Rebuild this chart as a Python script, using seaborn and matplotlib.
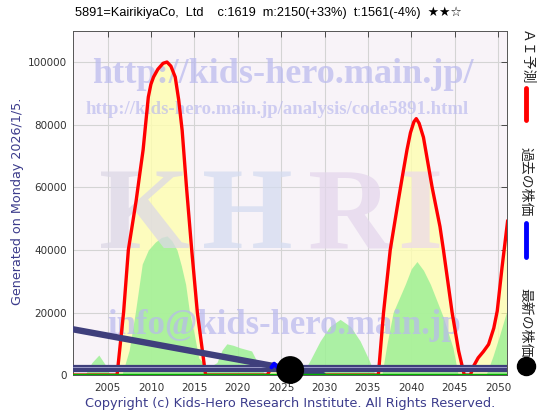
# Kids-Hero style stock chart, 5891 KairikiyaCo
import numpy as np
import pandas as pd
import matplotlib
matplotlib.use('Agg')
import matplotlib.pyplot as plt
import seaborn as sns

# AI prediction (red line + yellow fill)
ai_years = [2001.0, 2006.1, 2006.85, 2007.4, 2008.3, 2008.7, 2009.1, 2009.4, 2009.7, 2010.0,
            2010.3, 2010.8, 2011.4, 2011.85, 2012.3, 2012.8, 2013.2, 2013.6, 2014.1, 2014.7,
            2015.35, 2016.3, 2023.4, 2024.1, 2025.0,
            2036.2, 2036.8, 2037.57, 2038.5, 2039.0, 2039.5, 2039.9, 2040.3, 2040.57, 2040.9,
            2041.4, 2042.4, 2043.3, 2043.7, 2044.7, 2045.45, 2046.1, 2046.8, 2047.2, 2047.7,
            2048.3, 2048.9, 2049.5, 2049.9, 2050.45, 2051.1]
ai_values = [0, 0, 20000, 40000, 55800, 64000, 72000, 80500, 88900, 93000,
             95300, 97800, 99700, 100100, 98800, 95300, 88000, 78200, 60000, 40000,
             20000, 0, 0, 3500, 0,
             0, 20000, 40000, 55800, 64000, 72000, 77500, 81000, 82000, 80500,
             76000, 60000, 47500, 40000, 20000, 7700, 0, 0, 3000, 5500,
             7500, 9800, 15000, 20500, 34400, 49400]

# green humps
green_years = [2001.0, 2002.4, 2003.2, 2004.0, 2004.7, 2005.3,
               2006.65, 2007.5, 2008.2, 2009.0, 2009.7, 2010.5, 2011.2, 2011.85, 2012.4,
               2013.0, 2013.5, 2014.0, 2014.4, 2015.0, 2015.5, 2016.3, 2017.0, 2017.6,
               2018.2, 2018.75, 2019.5, 2020.3, 2021.6, 2022.6, 2023.2,
               2027.4, 2028.4, 2029.5, 2030.6, 2031.8, 2033.0, 2034.1, 2035.1, 2035.85,
               2036.6, 2037.2, 2037.9, 2039.3, 2040.0, 2040.65, 2041.4, 2042.2, 2043.7,
               2044.8, 2045.4, 2048.6, 2049.4, 2050.2, 2051.0]
green_values = [0, 0, 4000, 6400, 3500, 0,
                0, 8000, 20000, 35500, 40000, 42500, 44000, 44500, 43000,
                40000, 35000, 29000, 21000, 13000, 5500, 3000, 3000, 4000,
                8000, 10000, 9500, 8700, 7700, 2300, 0,
                0, 5000, 10900, 15500, 17800, 15500, 10900, 5000, 0,
                0, 10000, 20000, 29000, 34000, 36300, 33500, 29000, 18400,
                8700, 0, 0, 6000, 13000, 20500]

# trend line of past prices (navy)
trend_years = [2001.0, 2029.8]
trend_values = [14650, 0]

# past price (blue), latest price (black dot)
past_years = [2023.9, 2024.2, 2024.6]
past_values = [2500, 3600, 2400]
latest_year = [2026.05]
latest_value = [1619]

band_value = 2350      # navy horizontal band
band_line_value = 2650

xticks = [2005, 2010, 2015, 2020, 2025, 2030, 2035, 2040, 2045, 2050]
yticks = [0, 20000, 40000, 60000, 80000, 100000]

title = "5891=KairikiyaCo,  Ltd    c:1619  m:2150(+33%)  t:1561(-4%)  ★★☆"

sns.set_theme(style='white')
plt.rcParams['font.family'] = ['DejaVu Sans', 'Noto Sans CJK JP']

navy = '#3f3f7c'
fig = plt.figure(figsize=(5.6, 4.2), dpi=100)
ax = fig.add_axes([0.130, 0.107, 0.775, 0.819])
ax.set_facecolor('#f8f3f8')

ai_df = pd.DataFrame({'year': ai_years, 'value': ai_values})
green_df = pd.DataFrame({'year': green_years, 'value': green_values})
trend_df = pd.DataFrame({'year': trend_years, 'value': trend_values})
past_df = pd.DataFrame({'year': past_years, 'value': past_values})
latest_df = pd.DataFrame({'year': latest_year, 'value': latest_value})

ax.fill_between(ai_df['year'], ai_df['value'], 0, color='#ffffb0', alpha=0.8, lw=0, zorder=1)
ax.fill_between(green_df['year'], green_df['value'], 0, color='#9ef096', alpha=0.85, lw=0, zorder=2)

# watermarks
wm = dict(transform=ax.transAxes, ha='center', family='Liberation Serif',
          weight='bold', zorder=3)
ax.text(0.485, 0.873, 'http://kids-hero.main.jp/', fontsize=26, color='#b8b8ee', alpha=0.7,
        va='center', **wm)
ax.text(0.47, 0.773, 'http://kids-hero.main.jp/analysis/code5891.html', fontsize=13.5,
        color='#b8b8ee', alpha=0.65, va='center', **wm)
for letter, xpos, col in [('K', 0.164, '#dcd8e6'), ('H', 0.403, '#d4dcf0'),
                          ('R', 0.638, '#e4d6ec'), ('I', 0.80, '#ecdaea')]:
    ax.text(xpos, 0.369, letter, fontsize=84, color=col, alpha=0.75, va='baseline', **wm)
ax.text(0.488, 0.145, 'info@kids-hero.main.jp', fontsize=25, color='#b8b8ee', alpha=0.7,
        va='center', **wm)

sns.lineplot(data=ai_df, x='year', y='value', color='#ff0000', lw=2.4, ax=ax, zorder=5)
ax.axhline(band_value, color=navy, lw=5.2, zorder=6)
ax.axhline(band_line_value, color='#9a9ac8', lw=0.7, zorder=6)
sns.lineplot(data=trend_df, x='year', y='value', color=navy, lw=4.6, ax=ax, zorder=6)
sns.lineplot(data=past_df, x='year', y='value', color='#0000ff', lw=3, ax=ax, zorder=7)
ax.axhline(0, color='#00b000', lw=2.5, zorder=7)
sns.scatterplot(data=latest_df, x='year', y='value', color='black', s=400, ax=ax,
                zorder=8, edgecolor='none', clip_on=False)

ax.set_xlim(2001.0, 2051.0)
ax.set_ylim(0, 110000)
ax.set_xticks(xticks)
ax.set_yticks(yticks)
ax.set_xlabel('')
ax.set_ylabel('')
ax.grid(True, color='#d4d4d4', lw=0.8, zorder=0)
ax.set_axisbelow(True)
ax.tick_params(direction='in', top=True, right=True, length=4, width=0.6,
               colors='#333333', labelsize=7.5, pad=4)
ax.tick_params(axis='x', pad=6)
for s in ax.spines.values():
    s.set_color('#555555')
    s.set_linewidth(0.7)

fig.text(0.134, 0.969, title, fontsize=9.2, color='black', family=['Liberation Sans', 'DejaVu Sans'],
         ha='left', va='center')
fig.text(0.032, 0.521, 'Generated on Monday 2026/1/5.', rotation=90, fontsize=9.2,
         color='#3c3c8c', ha='center', va='center')
fig.text(0.518, 0.040, 'Copyright (c) Kids-Hero Research Institute. All Rights Reserved.',
         fontsize=9.3, color='#3c3c8c', ha='center', va='center')

# right legend
jp = ['Noto Sans CJK JP', 'DejaVu Sans']
fig.text(0.939, 0.863, 'ＡＩ予測', rotation=-90, fontsize=10, family=jp, ha='center', va='center')
fig.add_artist(plt.Line2D([0.939, 0.939], [0.714, 0.790], color='#ff0000', lw=3.5))
fig.text(0.939, 0.568, '過去の株価', rotation=-90, fontsize=10, family=jp, ha='center', va='center')
fig.add_artist(plt.Line2D([0.939, 0.939], [0.388, 0.469], color='#0000ff', lw=3.5))
fig.text(0.939, 0.231, '最新の株価', rotation=-90, fontsize=10, family=jp, ha='center', va='center')
fig.add_artist(plt.Line2D([0.939], [0.128], marker='o', markersize=13, color='black'))

fig.savefig('out.png', dpi=100, facecolor='white')
